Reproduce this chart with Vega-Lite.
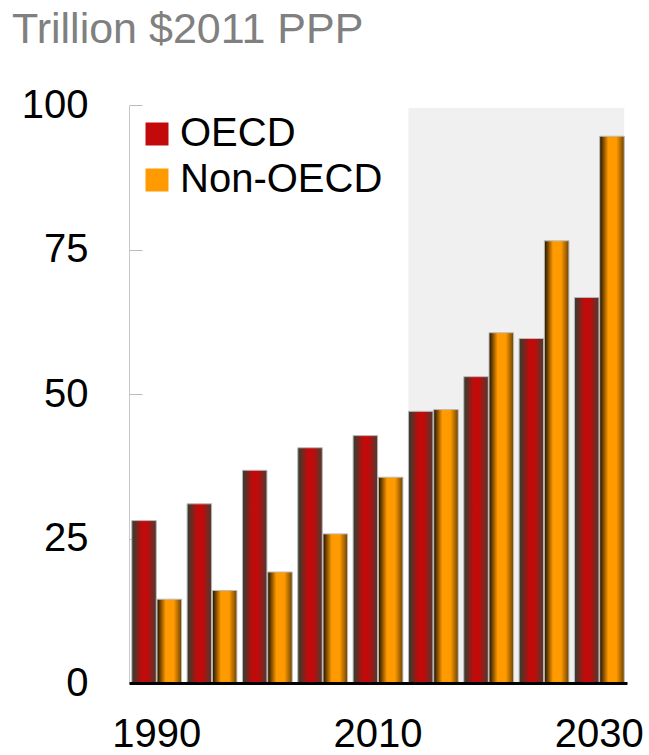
{
  "$schema": "https://vega.github.io/schema/vega-lite/v6.json",
  "width": 498,
  "height": 578,
  "autosize": {"type": "none"},
  "padding": {"left": 129, "top": 105, "right": 22, "bottom": 72},
  "background": "white",
  "config": {
    "view": {"stroke": null},
    "font": "Liberation Sans",
    "axisX": {
      "labelPadding": 31,
      "labelAlign": "center",
      "labelBaseline": "top",
      "bandPosition": 0.5,
      "ticks": false,
      "labelAngle": 0,
      "labelFontSize": 40,
      "labelColor": "black",
      "domainColor": "black",
      "domainWidth": 3
    },
    "axisY": {
      "labelFontSize": 40,
      "labelColor": "black",
      "domainColor": "#c8c8c8",
      "tickColor": "#bbbbbb",
      "tickSize": -13,
      "labelPadding": 54,
      "grid": false
    }
  },
  "title": {
    "text": "Trillion $2011 PPP",
    "anchor": "start",
    "frame": "group",
    "fontSize": 43,
    "fontWeight": "normal",
    "font": "Liberation Sans",
    "color": "#808080",
    "dx": -117,
    "offset": 33
  },
  "datasets": {
    "gdp": [
      {"year": 1990, "region": "OECD", "value": 28.1},
      {"year": 1990, "region": "Non-OECD", "value": 14.5},
      {"year": 1995, "region": "OECD", "value": 31.0},
      {"year": 1995, "region": "Non-OECD", "value": 16.0},
      {"year": 2000, "region": "OECD", "value": 36.8},
      {"year": 2000, "region": "Non-OECD", "value": 19.2},
      {"year": 2005, "region": "OECD", "value": 40.7},
      {"year": 2005, "region": "Non-OECD", "value": 25.8},
      {"year": 2010, "region": "OECD", "value": 42.8},
      {"year": 2010, "region": "Non-OECD", "value": 35.6},
      {"year": 2015, "region": "OECD", "value": 47.0},
      {"year": 2015, "region": "Non-OECD", "value": 47.3},
      {"year": 2020, "region": "OECD", "value": 53.0},
      {"year": 2020, "region": "Non-OECD", "value": 60.6},
      {"year": 2025, "region": "OECD", "value": 59.6},
      {"year": 2025, "region": "Non-OECD", "value": 76.5},
      {"year": 2030, "region": "OECD", "value": 66.7},
      {"year": 2030, "region": "Non-OECD", "value": 94.6}
    ],
    "projection": [
      {"year": 2015, "yearEnd": 2030, "low": 0, "high": 99.5}
    ]
  },
  "layer": [
    {
      "data": {"name": "projection"},
      "mark": {"type": "rect", "fill": "#f0f0f0"},
      "encoding": {
        "x": {
          "field": "year",
          "type": "ordinal",
          "bandPosition": 0,
          "scale": {"paddingInner": 0.1, "paddingOuter": 0.05},
          "axis": {
            "title": null,
            "labelExpr": "indexof(['1990','2010','2030'], datum.label) >= 0 ? datum.label : ''",
            "labelPadding": 31,
            "bandPosition": 0.5,
            "zindex": 2
          }
        },
        "x2": {"field": "yearEnd", "bandPosition": 1},
        "y": {
          "field": "low",
          "type": "quantitative",
          "scale": {"domain": [0, 100], "nice": false},
          "axis": {"title": null, "values": [0, 25, 50, 75, 100]}
        },
        "y2": {"field": "high"}
      }
    },
    {
      "data": {"name": "gdp"},
      "mark": {"type": "bar", "stroke": "#bbbbbb", "strokeWidth": 1},
      "encoding": {
        "x": {"field": "year", "type": "ordinal"},
        "xOffset": {
          "field": "region",
          "sort": ["OECD", "Non-OECD"],
          "scale": {"paddingInner": 0.03}
        },
        "y": {"field": "value", "type": "quantitative"},
        "fill": {
          "condition": {
            "test": "datum.region === 'OECD'",
            "value": {"gradient": "linear", "x1": 0, "y1": 0, "x2": 1, "y2": 0,
              "stops": [
                {"offset": 0, "color": "#2a4232"},
                {"offset": 0.42, "color": "#c20a0a"},
                {"offset": 0.62, "color": "#c20a0a"},
                {"offset": 1, "color": "#4d3a30"}
              ]}
          },
          "value": {"gradient": "linear", "x1": 0, "y1": 0, "x2": 1, "y2": 0,
            "stops": [
              {"offset": 0, "color": "#1e1000"},
              {"offset": 0.35, "color": "#ff9a00"},
              {"offset": 0.68, "color": "#ff9a00"},
              {"offset": 1, "color": "#6e4300"}
            ]}
        }
      }
    },
    {
      "data": {"name": "gdp"},
      "mark": {"type": "bar", "opacity": 0},
      "encoding": {
        "x": {"field": "year", "type": "ordinal"},
        "xOffset": {"field": "region", "sort": ["OECD", "Non-OECD"]},
        "y": {"field": "value", "type": "quantitative"},
        "color": {
          "field": "region",
          "type": "nominal",
          "sort": ["OECD", "Non-OECD"],
          "scale": {"domain": ["OECD", "Non-OECD"], "range": ["#c20a0a", "#ff9a00"]},
          "legend": {
            "title": null,
            "orient": "none",
            "legendX": 8,
            "legendY": 9,
            "padding": 0,
            "symbolType": "square",
            "symbolSize": 529,
            "symbolOpacity": 1,
            "symbolStrokeColor": "#bbbbbb",
            "symbolStrokeWidth": 1,
            "labelFontSize": 40,
            "labelFont": "Liberation Sans",
            "labelColor": "black",
            "labelOffset": 3,
            "labelLimit": 0,
            "rowPadding": 6,
            "encode": {
              "symbols": {
                "update": {
                  "opacity": {"value": 1},
                  "fill": {"signal": "datum.value === 'OECD' ? {gradient: 'linear', x1: 0, y1: 0, x2: 1, y2: 0, stops: [{offset: 0, color: '#2a4232'}, {offset: 0.42, color: '#c20a0a'}, {offset: 0.62, color: '#c20a0a'}, {offset: 1, color: '#4d3a30'}]} : {gradient: 'linear', x1: 0, y1: 0, x2: 1, y2: 0, stops: [{offset: 0, color: '#1e1000'}, {offset: 0.35, color: '#ff9a00'}, {offset: 0.68, color: '#ff9a00'}, {offset: 1, color: '#6e4300'}]}"}
                },
                "fill": {"signal": "datum.value === 'OECD' ? {gradient: 'linear', x1: 0, y1: 0, x2: 1, y2: 0, stops: [{offset: 0, color: '#2a4232'}, {offset: 0.42, color: '#c20a0a'}, {offset: 0.62, color: '#c20a0a'}, {offset: 1, color: '#4d3a30'}]} : {gradient: 'linear', x1: 0, y1: 0, x2: 1, y2: 0, stops: [{offset: 0, color: '#1e1000'}, {offset: 0.35, color: '#ff9a00'}, {offset: 0.68, color: '#ff9a00'}, {offset: 1, color: '#6e4300'}]}"}
              }
            }
          }
        }
      }
    }
  ]
}
